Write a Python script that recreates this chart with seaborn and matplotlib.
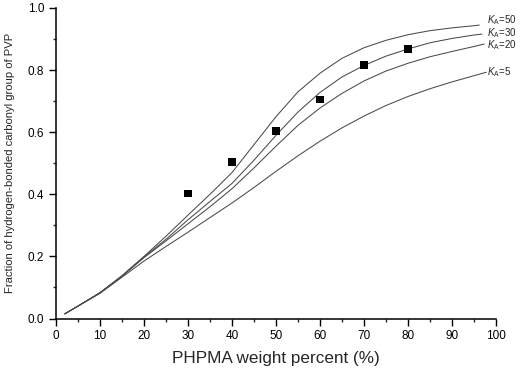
import numpy as np
import pandas as pd
import matplotlib
matplotlib.use("Agg")
import matplotlib.pyplot as plt
from matplotlib.ticker import MultipleLocator
import seaborn as sns

# PHPMA weight percent grid
wt_grid = [2, 5, 10, 15, 20, 25, 30, 35, 40, 45, 50, 55, 60, 65, 70, 75, 80, 85, 90, 95]

# calculated curves for the different K_A values
k_labels = ["50", "30", "20", "5"]
wt_end = [96.2, 96.8, 97.3, 97.8]
frac_k50 = [0.015, 0.04, 0.083, 0.138, 0.200, 0.265, 0.333, 0.400, 0.470, 0.560,
            0.650, 0.730, 0.790, 0.838, 0.872, 0.896, 0.914, 0.927, 0.936, 0.943, 0.945]
frac_k30 = [0.015, 0.04, 0.083, 0.137, 0.198, 0.255, 0.318, 0.377, 0.435, 0.510,
            0.590, 0.665, 0.728, 0.778, 0.815, 0.845, 0.868, 0.888, 0.902, 0.913, 0.916]
frac_k20 = [0.015, 0.04, 0.083, 0.136, 0.196, 0.250, 0.305, 0.360, 0.418, 0.485,
            0.555, 0.622, 0.678, 0.725, 0.765, 0.797, 0.822, 0.843, 0.860, 0.876, 0.884]
frac_k5 = [0.015, 0.04, 0.081, 0.133, 0.185, 0.232, 0.278, 0.325, 0.372, 0.422,
           0.474, 0.524, 0.571, 0.614, 0.652, 0.686, 0.715, 0.740, 0.762, 0.782, 0.793]

# experimental points
exp_wt = [30, 40, 50, 60, 70, 80]
exp_frac = [0.403, 0.505, 0.603, 0.705, 0.816, 0.868]

sns.set_style("ticks")
plt.rcParams["font.family"] = ["Liberation Sans", "DejaVu Sans"]
plt.rcParams["mathtext.fontset"] = "custom"
plt.rcParams["mathtext.rm"] = "Liberation Sans"
plt.rcParams["mathtext.it"] = "Liberation Sans:italic"

fig = plt.figure(figsize=(5.2, 3.71), dpi=100)
ax = fig.add_axes([56 / 520, 52.5 / 371, 440 / 520, 310.5 / 371])

curves = [frac_k50, frac_k30, frac_k20, frac_k5]
rows = []
for lab, end, fr in zip(k_labels, wt_end, curves):
    for w, f in zip(wt_grid + [end], fr):
        rows.append({"wt": w, "frac": f, "K": lab})
df = pd.DataFrame(rows)

sns.lineplot(data=df, x="wt", y="frac", hue="K", units="K", estimator=None,
             palette={k: "#4a4a4a" for k in k_labels}, linewidth=0.75,
             legend=False, ax=ax)
sns.scatterplot(x=exp_wt, y=exp_frac, marker="s", s=30, color="black",
                edgecolor="none", zorder=5, ax=ax)

# curve labels at the right end
label_y = [0.950, 0.910, 0.870, 0.784]
for lab, y in zip(k_labels, label_y):
    ax.text(98.0, y, r"$K_\mathregular{A}$=" + lab, fontsize=7, va="baseline",
            ha="left", clip_on=False)

ax.set_xlim(0, 100)
ax.set_ylim(0, 1.0)
ax.xaxis.set_major_locator(MultipleLocator(10))
ax.xaxis.set_minor_locator(MultipleLocator(5))
ax.yaxis.set_major_locator(MultipleLocator(0.2))
ax.yaxis.set_minor_locator(MultipleLocator(0.1))
ax.yaxis.set_major_formatter(matplotlib.ticker.FormatStrFormatter("%.1f"))
ax.tick_params(which="major", direction="out", length=5, width=1, labelsize=8.5, colors="black")
ax.tick_params(which="minor", direction="out", length=2.5, width=1)
for s in ["left", "bottom"]:
    ax.spines[s].set_linewidth(1.1)
    ax.spines[s].set_color("black")
sns.despine(ax=ax)

ax.set_xlabel("PHPMA weight percent (%)", fontsize=12.3, labelpad=6)
ax.set_ylabel("Fraction of hydrogen-bonded carbonyl group of PVP", fontsize=8.1, labelpad=9)

plt.savefig("out.png", dpi=100)
